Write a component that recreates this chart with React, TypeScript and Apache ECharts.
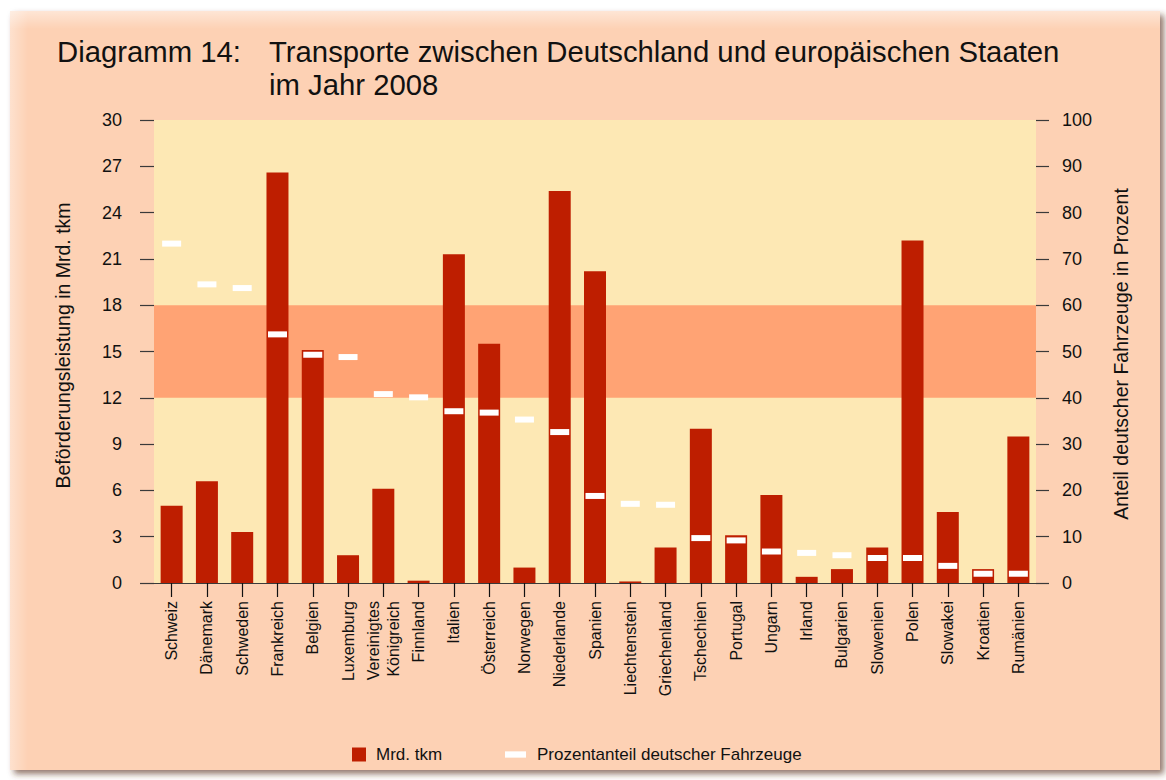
import React, { useEffect, useRef } from "react";
import * as echarts from "echarts";

const categories = [
  "Schweiz", "Dänemark", "Schweden", "Frankreich", "Belgien", "Luxemburg",
  "Vereinigtes\nKönigreich", "Finnland", "Italien", "Österreich", "Norwegen",
  "Niederlande", "Spanien", "Liechtenstein", "Griechenland", "Tschechien",
  "Portugal", "Ungarn", "Irland", "Bulgarien", "Slowenien", "Polen",
  "Slowakei", "Kroatien", "Rumänien",
];
const tkm = [
  5.0, 6.6, 3.3, 26.6, 15.1, 1.8, 6.1, 0.15, 21.3, 15.5, 1.0, 25.4, 20.2,
  0.1, 2.3, 10.0, 3.1, 5.7, 0.4, 0.9, 2.3, 22.2, 4.6, 0.9, 9.5,
];
const share = [
  73.3, 64.5, 63.7, 53.7, 49.3, 48.8, 40.8, 40.1, 37.1, 36.8, 35.3, 32.6,
  18.8, 17.1, 16.9, 9.7, 9.2, 6.8, 6.5, 6.0, 5.4, 5.4, 3.7, 2.0, 2.0,
];
const leftTicks = { min: 0, max: 30, interval: 3 };
const rightTicks = { min: 0, max: 100, interval: 10 };
const bandRange = [12, 18];

const seriesNames = ["Mrd. tkm", "Prozentanteil deutscher Fahrzeuge"];
const titleLabel = "Diagramm 14:";
const titleLines = [
  "Transporte zwischen Deutschland und europäischen Staaten",
  "im Jahr 2008",
];
const leftAxisName = "Beförderungsleistung in Mrd. tkm";
const rightAxisName = "Anteil deutscher Fahrzeuge in Prozent";

const FONT = "'Liberation Sans', Arial, Helvetica, sans-serif";
const TEXT = "#111111";
const LINE = "#3a3a3a";

export default function App() {
  const ref = useRef<HTMLDivElement>(null);

  useEffect(() => {
    if (!ref.current) return;
    const chart = echarts.init(ref.current, undefined, { renderer: "svg" });
    const option: any = {
      animation: false,
      backgroundColor: "#ffffff",
      textStyle: { fontFamily: FONT },
      grid: { left: 154, right: 130, top: 120, bottom: 197, containLabel: false },
      graphic: [
        {
          type: "rect",
          z: -100,
          silent: true,
          shape: { x: 10, y: 11, width: 1150, height: 759 },
          style: {
            fill: "#FDD1B4",
            shadowBlur: 6,
            shadowOffsetX: 4,
            shadowOffsetY: 4,
            shadowColor: "rgba(90,50,30,0.65)",
          },
        },
        {
          type: "rect",
          z: -99,
          silent: true,
          shape: { x: 10, y: 11, width: 1150, height: 18 },
          style: {
            fill: new echarts.graphic.LinearGradient(0, 0, 0, 1, [
              { offset: 0, color: "rgba(255,255,255,0.45)" },
              { offset: 1, color: "rgba(255,255,255,0)" },
            ]),
          },
        },
        {
          type: "rect",
          z: -99,
          silent: true,
          shape: { x: 10, y: 11, width: 18, height: 759 },
          style: {
            fill: new echarts.graphic.LinearGradient(0, 0, 1, 0, [
              { offset: 0, color: "rgba(255,255,255,0.35)" },
              { offset: 1, color: "rgba(255,255,255,0)" },
            ]),
          },
        },
        {
          type: "text",
          z: 100,
          x: 57,
          y: 51.5,
          style: {
            text: titleLabel,
            font: `29.3px ${FONT}`,
            fill: TEXT,
            textAlign: "left",
            textVerticalAlign: "middle",
          },
        },
        {
          type: "text",
          z: 100,
          x: 269,
          y: 51.5,
          style: {
            text: titleLines[0],
            font: `29.3px ${FONT}`,
            fill: TEXT,
            textAlign: "left",
            textVerticalAlign: "middle",
          },
        },
        {
          type: "text",
          z: 100,
          x: 269,
          y: 84.5,
          style: {
            text: titleLines[1],
            font: `29.3px ${FONT}`,
            fill: TEXT,
            textAlign: "left",
            textVerticalAlign: "middle",
          },
        },
        {
          type: "text",
          z: 100,
          x: 63,
          y: 345.5,
          rotation: Math.PI / 2,
          style: {
            text: leftAxisName,
            font: `19.5px ${FONT}`,
            fill: TEXT,
            textAlign: "center",
            textVerticalAlign: "middle",
          },
        },
        {
          type: "text",
          z: 100,
          x: 1121,
          y: 354,
          rotation: Math.PI / 2,
          style: {
            text: rightAxisName,
            font: `19.5px ${FONT}`,
            fill: TEXT,
            textAlign: "center",
            textVerticalAlign: "middle",
          },
        },
      ],
      legend: [
        {
          left: 352,
          top: 746,
          padding: 0,
          itemWidth: 14,
          itemHeight: 14,
          data: [{ name: seriesNames[0], icon: "rect" }],
          textStyle: { fontSize: 17, color: TEXT, fontFamily: FONT, padding: [0, 0, 0, 5] },
          selectedMode: false,
        },
        {
          left: 505,
          top: 746,
          padding: 0,
          itemWidth: 21,
          itemHeight: 14,
          data: [{ name: seriesNames[1], icon: "path://M0,0H20V6H0Z" }],
          textStyle: { fontSize: 17, color: TEXT, fontFamily: FONT, padding: [0, 0, 0, 6] },
          itemStyle: { borderWidth: 0 },
          selectedMode: false,
        },
      ],
      xAxis: {
        type: "category",
        data: categories,
        boundaryGap: true,
        axisLine: { show: true, lineStyle: { color: LINE, width: 1.2 } },
        axisTick: { show: true, alignWithLabel: true, length: 14, lineStyle: { color: "#111", width: 1.2 } },
        axisLabel: {
          rotate: 90,
          interval: 0,
          margin: 18,
          fontSize: 16,
          lineHeight: 20,
          color: TEXT,
          fontFamily: FONT,
        },
      },
      yAxis: [
        {
          type: "value",
          min: leftTicks.min,
          max: leftTicks.max,
          interval: leftTicks.interval,
          position: "left",
          axisLine: { show: false },
          axisTick: { show: true, length: 14, lineStyle: { color: LINE, width: 1.2 } },
          axisLabel: { margin: 32, fontSize: 18, color: TEXT, fontFamily: FONT },
          splitLine: { show: true, lineStyle: { color: LINE, width: 1.2 } },
        },
        {
          type: "value",
          min: rightTicks.min,
          max: rightTicks.max,
          interval: rightTicks.interval,
          position: "right",
          axisLine: { show: false },
          axisTick: { show: true, length: 13, lineStyle: { color: LINE, width: 1.2 } },
          axisLabel: { margin: 26, fontSize: 18, color: TEXT, fontFamily: FONT },
          splitLine: { show: false },
        },
      ],
      series: [
        {
          type: "line",
          name: "bands",
          data: [],
          silent: true,
          z: -1,
          markArea: {
            silent: true,
            data: [
              [
                { yAxis: leftTicks.min, itemStyle: { color: "#FDE8B4" } },
                { yAxis: leftTicks.max },
              ],
              [
                { yAxis: bandRange[0], itemStyle: { color: "#FFA374" } },
                { yAxis: bandRange[1] },
              ],
            ],
          },
        },
        {
          type: "bar",
          name: seriesNames[0],
          data: tkm,
          barWidth: 22,
          itemStyle: { color: "#BE1E00" },
          z: 2,
        },
        {
          type: "scatter",
          name: seriesNames[1],
          yAxisIndex: 1,
          data: share,
          symbol: "rect",
          symbolSize: [19, 6],
          itemStyle: { color: "#ffffff", borderWidth: 0, opacity: 1 },
          z: 3,
        },
      ],
    };
    chart.setOption(option);
    return () => chart.dispose();
  }, []);

  return (
    <div
      ref={ref}
      style={{ position: "fixed", left: 0, top: 0, width: 1166, height: 780 }}
    />
  );
}
